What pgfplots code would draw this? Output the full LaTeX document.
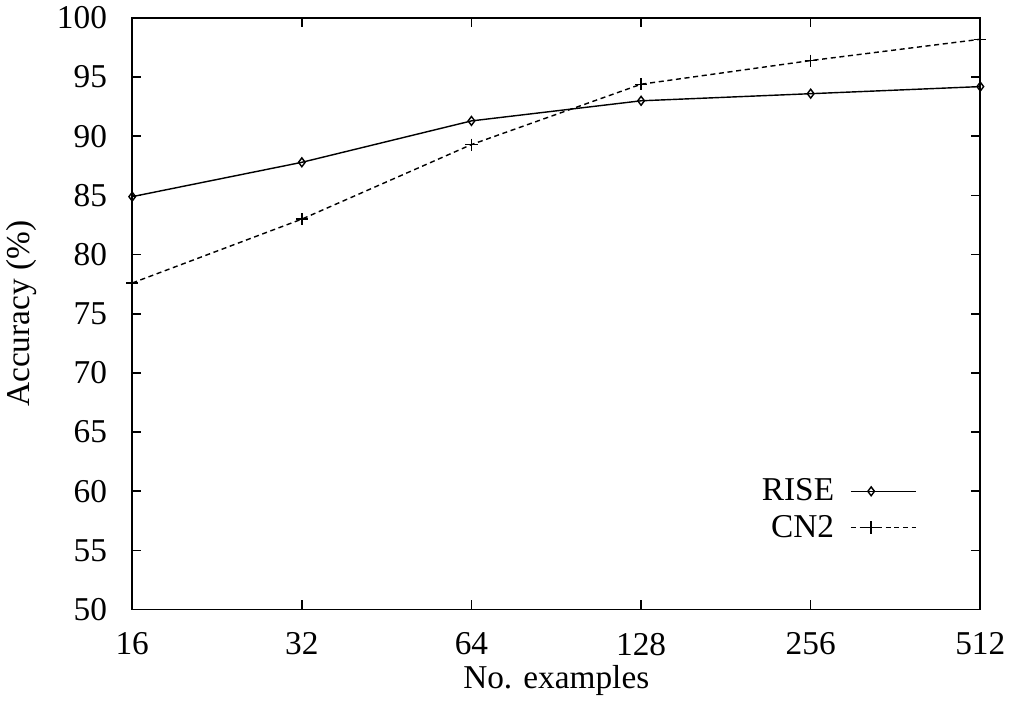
\documentclass[border=0pt]{standalone}
\usepackage{fontspec}
\setmainfont{Liberation Serif}
\usepackage{pgfplots}
\pgfplotsset{compat=1.18}

\begin{document}
\begin{tikzpicture}
\begin{axis}[
  scale only axis,
  width=420pt, height=293pt,
  xmode=log, log basis x=2,
  xmin=16, xmax=512, ymin=50, ymax=100,
  xtick={16,32,64,128,256,512},
  xticklabels={16,32,64,128,256,512},
  ytick={50,55,...,100},
  tick align=inside,
  major tick length=4.5pt,
  minor tick num=0,
  axis line style={line width=0.9pt},
  every tick/.style={line width=0.8pt, black},
  /pgf/number format/assume math mode=true,
  font=\fontsize{16.5}{19}\selectfont,
  tick label style={font=\fontsize{16.5}{19}\selectfont},
  xticklabel style={yshift=-8pt},
  yticklabel style={xshift=-9pt},
  xlabel={No. examples},
  ylabel={Accuracy (\%)},
  xlabel style={yshift=2pt},
  ylabel style={yshift=3pt},
  legend cell align=right,
  legend plot pos=right,
  legend style={at={(rel axis cs:0.925,0.11)}, anchor=south east, draw=none, fill=none,
    font=\fontsize{16.5}{19}\selectfont, row sep=1.5pt, column sep=6pt, inner sep=0pt},
  legend image code/.code={\draw[mark repeat=2,mark phase=2,#1] plot coordinates {(0pt,0pt) (10pt,0pt) (32pt,0pt)};},
]
\addplot[black, line width=0.7pt, mark=diamond, mark size=2.2pt, mark options={solid, line width=0.7pt}]
  coordinates {(16,84.9) (32,87.8) (64,91.3) (128,93.0) (256,93.6) (512,94.2)};
\addlegendentry{RISE}
\addplot[black, line width=0.7pt, dash pattern=on 2.5pt off 1.8pt, mark=+, mark size=3pt, mark options={solid, line width=0.7pt}]
  coordinates {(16,77.6) (32,83.0) (64,89.3) (128,94.4) (256,96.4) (512,98.2)};
\addlegendentry{CN2}
\end{axis}
\end{tikzpicture}
\end{document}
